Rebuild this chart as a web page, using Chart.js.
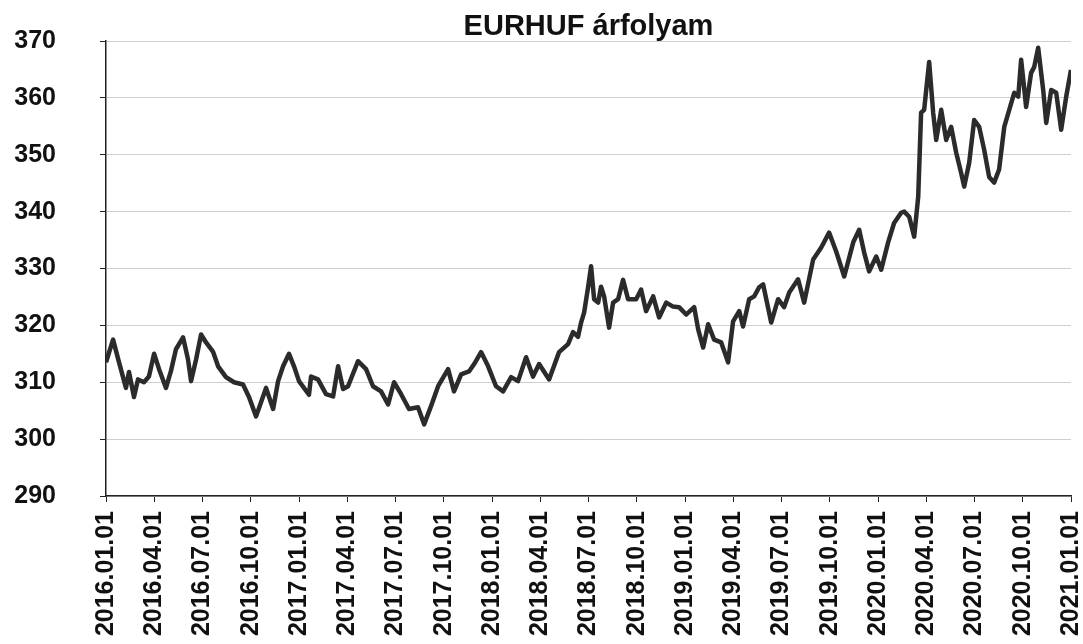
<!DOCTYPE html>
<html>
<head>
<meta charset="utf-8">
<script src="https://cdn.jsdelivr.net/npm/chart.js@4/dist/chart.umd.min.js"></script>
<style>
  html, body { margin: 0; padding: 0; background: #fff; }
  #wrap { width: 1083px; height: 644px; }
</style>
</head>
<body>
<div id="wrap"><canvas id="chart"></canvas></div>
<script>
// EURHUF rate (x = months since 2016.01.01)
const months = [
  0.0, 0.44, 0.81, 1.24, 1.43, 1.74, 1.99, 2.36, 2.67, 2.99, 3.30, 3.73, 4.04, 4.35, 4.79, 5.10,
  5.29, 5.60, 5.91, 6.22, 6.65, 6.97, 7.46, 7.96, 8.52, 8.89, 9.33, 9.64, 9.95, 10.39, 10.70, 11.01,
  11.38, 11.69, 12.00, 12.62, 12.75, 13.18, 13.68, 14.12, 14.43, 14.74, 15.05, 15.67, 16.17, 16.60, 17.10, 17.54,
  17.91, 18.35, 18.84, 19.40, 19.78, 20.21, 20.65, 21.27, 21.64, 22.08, 22.57, 22.89, 23.32, 23.76, 24.25, 24.69,
  25.19, 25.62, 26.12, 26.55, 26.93, 27.55, 28.17, 28.73, 29.04, 29.35, 29.54, 29.73, 29.98, 30.16, 30.35, 30.60,
  30.78, 30.97, 31.28, 31.53, 31.84, 32.15, 32.46, 32.96, 33.27, 33.58, 34.02, 34.39, 34.83, 35.26, 35.63, 36.07,
  36.57, 36.82, 37.13, 37.44, 37.81, 38.25, 38.68, 38.99, 39.37, 39.61, 39.99, 40.30, 40.61, 40.86, 41.36, 41.79,
  42.16, 42.48, 43.03, 43.41, 43.97, 44.47, 44.96, 45.40, 45.90, 46.46, 46.83, 47.14, 47.45, 47.89, 48.20, 48.63,
  49.00, 49.44, 49.63, 49.94, 50.25, 50.50, 50.68, 50.87, 51.18, 51.43, 51.62, 51.93, 52.24, 52.55, 52.86, 53.17,
  53.36, 53.67, 53.98, 54.29, 54.60, 54.91, 55.22, 55.53, 55.85, 56.16, 56.47, 56.72, 56.90, 57.21, 57.52, 57.71,
  57.96, 58.27, 58.46, 58.77, 59.08, 59.39, 59.70, 60.0, 60.05
];
const rates = [
  313.5, 317.5, 313.5, 309, 311.8, 307.4, 310.5, 310, 311, 315, 312.3, 309, 312, 315.8, 317.9, 314,
  310.2, 314, 318.4, 317, 315.4, 312.8, 310.9, 310, 309.6, 307.4, 304, 306.5, 309, 305.3, 310.2, 312.8,
  315, 312.8, 310.2, 307.8, 311, 310.5, 307.9, 307.5, 312.8, 308.8, 309.3, 313.7, 312.3, 309.3, 308.4, 306.1,
  310, 307.9, 305.3, 305.6, 302.6, 305.8, 309.3, 312.3, 308.4, 311.4, 311.9, 313.2, 315.3, 312.8, 309.3, 308.4,
  310.9, 310.2, 314.4, 311, 313.2, 310.5, 315.3, 316.7, 318.8, 318, 320.5, 322.3, 326.8, 330.4, 324.6, 324,
  326.8, 325.1, 319.6, 324, 324.6, 328, 324.6, 324.6, 326.3, 322.5, 325.1, 321.4, 324, 323.3, 323.2, 321.9,
  323.2, 319.3, 316.1, 320.2, 317.5, 317, 313.5, 320.7, 322.5, 319.8, 324.6, 325.1, 326.7, 327.2, 320.5, 324.6,
  323.2, 325.8, 328.1, 324, 331.6, 333.7, 336.3, 333, 328.6, 334.6, 336.8, 332.8, 329.5, 332.1, 329.8, 334.6,
  338, 339.8, 340, 339.1, 335.6, 342.6, 357.4, 357.9, 366.3, 357.4, 352.6, 357.9, 352.6, 354.9, 350.4, 346.8,
  344.4, 348.6, 356.1, 354.9, 350.9, 346.1, 345.1, 347.4, 354.9, 357.9, 360.9, 360.2, 366.7, 358.4, 364.4, 365.4,
  368.8, 361.4, 355.6, 361.4, 360.9, 354.4, 360.2, 364.9, 361
];
const quarterLabels = [
  '2016.01.01', '2016.04.01', '2016.07.01', '2016.10.01',
  '2017.01.01', '2017.04.01', '2017.07.01', '2017.10.01',
  '2018.01.01', '2018.04.01', '2018.07.01', '2018.10.01',
  '2019.01.01', '2019.04.01', '2019.07.01', '2019.10.01',
  '2020.01.01', '2020.04.01', '2020.07.01', '2020.10.01',
  '2021.01.01'
];
const yMin = 290;
const yMax = 370;

const points = months.map((m, i) => ({ x: m, y: rates[i] }));
const tickFont = { family: 'Liberation Sans, Arial, sans-serif', size: 25, weight: 'bold' };

new Chart(document.getElementById('chart'), {
  type: 'line',
  data: {
    datasets: [{
      label: 'EURHUF',
      data: points,
      borderColor: '#2b2b2b',
      borderWidth: 4.5,
      pointRadius: 0,
      tension: 0,
      borderJoinStyle: 'round'
    }]
  },
  options: {
    responsive: true,
    maintainAspectRatio: false,
    animation: false,
    layout: { padding: { left: 10, right: 12, top: 0, bottom: 0 } },
    plugins: {
      legend: { display: false },
      tooltip: { enabled: false },
      title: {
        display: true,
        fullSize: false,
        text: 'EURHUF árfolyam',
        color: '#111',
        font: { family: 'Liberation Sans, Arial, sans-serif', size: 29, weight: 'bold', lineHeight: 1.0 },
        padding: { top: 12, bottom: 0 }
      }
    },
    scales: {
      x: {
        type: 'linear',
        min: 0,
        max: 60,
        afterFit: s => { s.height = 148; s.paddingLeft = 0; s.paddingRight = 0; },
        afterBuildTicks: s => { s.ticks = quarterLabels.map((_, i) => ({ value: i * 3 })); },
        ticks: {
          autoSkip: false,
          maxRotation: 90,
          minRotation: 90,
          padding: 9,
          color: '#111',
          font: tickFont,
          callback: v => quarterLabels[Math.round(v / 3)]
        },
        grid: { drawOnChartArea: false, drawTicks: true, tickLength: 6, tickColor: '#222' },
        border: { color: '#222', width: 1.5 }
      },
      y: {
        min: yMin,
        max: yMax,
        afterFit: s => { s.width = 96; s.paddingTop = 0; s.paddingBottom = 0; },
        ticks: { stepSize: 10, padding: 44, color: '#111', font: tickFont },
        grid: { color: '#cfcfcf', lineWidth: 1, drawTicks: true, tickLength: 6, tickColor: '#222' },
        border: { color: '#222', width: 1.5 }
      }
    }
  }
});
</script>
</body>
</html>
